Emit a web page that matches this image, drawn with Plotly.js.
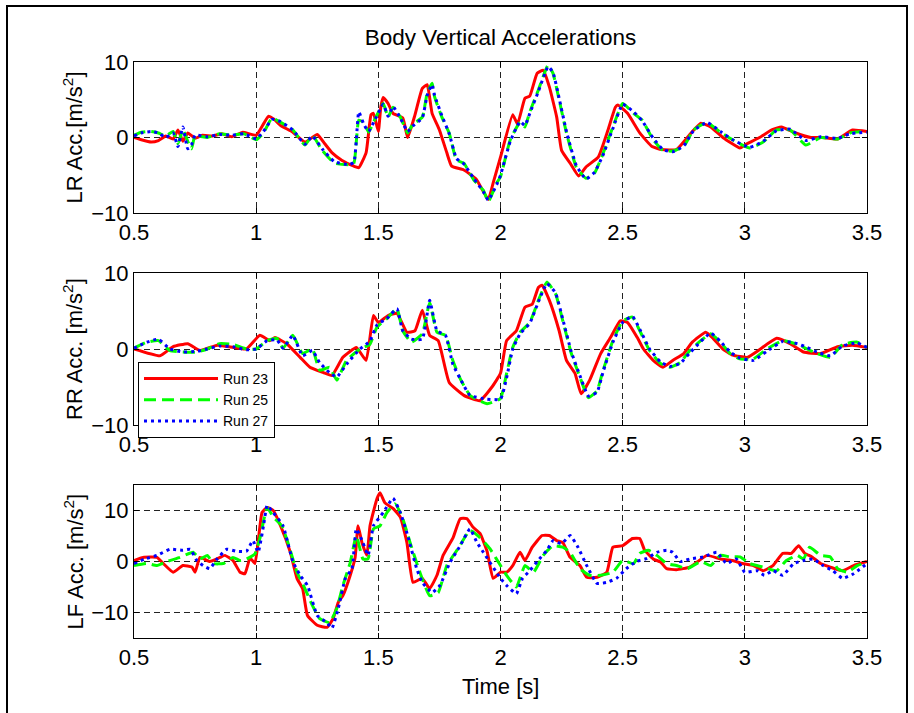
<!DOCTYPE html>
<html>
<head>
<meta charset="utf-8">
<script src="https://cdn.plot.ly/plotly-3.0.1.min.js"></script>
<style>html,body{margin:0;padding:0;background:#fff;}#chart{width:914px;height:713px;}</style>
</head>
<body>
<div id="chart"></div>
<script>
// ---- Data ----
const seriesNames = ['Run 23', 'Run 25', 'Run 27'];
const xTicks = [0.5, 1, 1.5, 2, 2.5, 3, 3.5];

// LR Acc. (top)
const lrT23 = [0.5,0.53,0.57,0.6,0.63,0.66,0.68,0.7,0.72,0.75,0.78,0.82,0.86,0.9,0.945,1.0,1.03,1.05,1.07,1.1,1.15,1.2,1.25,1.28,1.31,1.35,1.4,1.42,1.45,1.47,1.48,1.5,1.51,1.52,1.54,1.56,1.6,1.62,1.65,1.68,1.7,1.72,1.75,1.78,1.8,1.85,1.9,1.95,1.97,2.0,2.05,2.07,2.1,2.12,2.15,2.175,2.2,2.23,2.25,2.285,2.32,2.35,2.4,2.44,2.47,2.48,2.52,2.57,2.62,2.66,2.72,2.78,2.82,2.86,2.91,2.98,3.0,3.06,3.11,3.15,3.2,3.27,3.32,3.38,3.44,3.5];
const lrV23 = [0,-0.3,-0.6,-0.4,0.2,-0.2,1.0,-0.5,0.6,-0.1,0.3,0.2,0.5,0.1,0.7,0.3,1.8,2.8,2.5,1.6,0.7,-0.6,0.4,-0.8,-2.0,-3.0,-3.8,-4.0,-2.0,3.0,3.2,0.8,4.0,5.3,4.5,3.2,2.6,0.0,3.0,6.5,7.0,3.2,1.0,-2.0,-3.8,-4.3,-5.5,-8.2,-6.0,-2.6,3.0,1.8,5.2,5.5,8.5,8.9,6.7,2.7,-1.7,-3.4,-5.1,-3.9,-2.6,1.0,4.0,4.3,3.2,0.6,-1.2,-1.6,-1.6,0.6,1.9,1.4,0,-1.4,-1.0,0,1.0,1.4,0.7,0,0,-0.2,1.0,0.8];
const lrT25 = [0.5,0.53,0.57,0.6,0.63,0.66,0.68,0.7,0.72,0.735,0.75,0.8,0.85,0.9,0.95,1.0,1.03,1.065,1.1,1.15,1.2,1.23,1.27,1.32,1.38,1.4,1.42,1.44,1.46,1.49,1.52,1.54,1.56,1.59,1.62,1.64,1.68,1.70,1.72,1.73,1.76,1.79,1.82,1.85,1.89,1.93,1.95,1.985,2.0,2.04,2.08,2.1,2.12,2.155,2.195,2.215,2.24,2.27,2.31,2.35,2.385,2.42,2.46,2.5,2.545,2.58,2.625,2.665,2.705,2.75,2.79,2.845,2.9,2.95,3.02,3.075,3.13,3.185,3.25,3.31,3.38,3.43,3.5];
const lrV25 = [0.3,0.7,0.8,0.6,0.2,0.8,-0.8,1.0,-0.5,-1.5,0.2,0.0,0.5,0.3,0.5,-0.3,0.6,2.6,2.0,1.0,-1.0,0.3,-1.7,-3.4,-3.6,-3.4,2.3,2.0,0.7,2.7,4.5,2.7,4.0,2.7,0.6,1.7,2.7,5.9,7.2,5.4,2.7,0.6,-3.0,-3.4,-5.6,-7.0,-8.5,-6.0,-5.2,-0.3,2.0,1.4,3.4,6.3,9.6,8.5,5.0,0.6,-3.9,-5.4,-4.7,-2.1,1.4,4.5,3.2,2.3,-0.3,-1.7,-1.8,-1.2,1.0,2.0,0.7,-0.3,-1.4,-0.6,1.0,1.0,-1.0,0,-0.2,0.6,0.8];
const lrT27 = lrT25;
const lrV27 = [0.2,0.6,0.8,0.6,0.0,0.6,-1.2,1.4,-1.5,-1.0,0.3,0.1,0.4,0.3,0.5,-0.2,0.8,2.4,2.1,1.0,-0.9,0.2,-1.5,-3.2,-3.6,-3.3,3.4,1.8,0.8,2.6,4.4,2.8,4.1,2.6,0.8,1.5,2.6,5.6,7.0,5.6,2.9,0.5,-2.8,-3.5,-5.4,-7.2,-8.3,-6.2,-5.0,-0.5,2.1,1.6,3.2,6.1,9.4,8.6,5.2,0.8,-3.7,-5.5,-4.6,-2.3,1.2,4.4,3.4,2.2,-0.1,-1.6,-1.9,-1.1,0.9,2.0,0.8,-0.3,-1.3,-0.5,0.9,1.1,-0.4,0.1,-0.1,0.5,0.7];

// RR Acc. (middle)
const rrT23 = [0.5,0.606,0.66,0.72,0.77,0.84,0.89,0.96,1.015,1.056,1.077,1.125,1.18,1.22,1.275,1.31,1.355,1.41,1.45,1.48,1.5,1.54,1.576,1.617,1.65,1.68,1.71,1.745,1.79,1.85,1.915,1.965,2.0,2.025,2.065,2.1,2.13,2.155,2.17,2.2,2.24,2.27,2.305,2.33,2.365,2.41,2.45,2.49,2.52,2.56,2.585,2.625,2.665,2.705,2.75,2.785,2.84,2.87,2.91,2.95,3.01,3.055,3.13,3.185,3.24,3.31,3.38,3.44,3.5];
const rrV23 = [0,-0.9,0.3,0.7,-0.2,0.5,0.3,0,1.8,1.1,1.5,0.7,-1.1,-2.4,-3.1,-3.5,-1.1,0.2,-1.5,4.4,3.5,4.4,4.7,2.2,2.4,5.1,1.8,1.1,-4.4,-6.1,-6.8,-5.0,-3.2,1.1,2.4,5.5,5.9,8.1,8.4,6.4,2.4,-1.5,-3.2,-5.9,-4.1,-0.6,1.5,3.7,3.5,1.5,0,-1.5,-2.4,-1.5,-0.6,0.9,2.2,1.4,0,-0.8,-1.1,-0.2,1.4,0.7,-0.4,-0.6,0.3,0.5,0.2];
const rrT25 = [0.5,0.553,0.6,0.647,0.7,0.757,0.8,0.85,0.905,0.96,1.0,1.045,1.085,1.11,1.15,1.19,1.23,1.26,1.3,1.33,1.37,1.425,1.465,1.495,1.535,1.576,1.6,1.635,1.68,1.71,1.74,1.775,1.805,1.835,1.875,1.945,2.0,2.025,2.05,2.08,2.12,2.16,2.19,2.225,2.255,2.29,2.325,2.36,2.395,2.42,2.46,2.5,2.54,2.57,2.61,2.655,2.695,2.735,2.775,2.82,2.86,2.9,2.94,2.98,3.035,3.09,3.155,3.215,3.255,3.295,3.35,3.4,3.46,3.5];
const rrV25 = [0.1,0.9,1.1,-0.2,-0.4,-0.4,0,0.7,0.6,0,0,1.1,1.4,0.1,1.8,-0.6,0,-2.8,-2.4,-4.1,-1.5,0,0.6,2.9,4.0,5.3,2.4,0.9,2.0,6.1,2.2,1.8,-1.5,-3.9,-6.1,-7.2,-6.5,-3.2,0.2,2.2,3.5,6.8,8.8,7.3,3.7,-0.6,-3.7,-6.4,-5.5,-2.8,1.1,3.7,4.2,2.4,-0.2,-1.9,-2.4,-1.8,-0.2,1.1,2.0,0.9,-0.6,-1.3,-1.3,0,1.1,0.6,0,-0.6,-1.1,0.6,0.9,0.2];
const rrT27 = rrT25;
const rrV27 = [0.1,0.9,1.3,0,-0.4,-0.3,0,0.4,0.3,-0.1,0,1.1,1.2,0.1,1.8,-0.9,-0.2,-1.8,-3.1,-3.7,-2.0,0,1.0,3.2,4.0,5.3,2.4,1.3,1.3,6.4,2.4,1.8,-2.0,-3.9,-6.1,-6.6,-6.6,-3.8,0,2.0,3.4,6.6,8.6,7.4,3.9,-0.4,-3.5,-6.2,-5.7,-3.0,0.9,3.5,4.3,2.6,0,-1.7,-2.3,-1.9,-0.5,1.0,2.1,1.0,-0.4,-1.2,-1.5,-0.3,1.0,0.7,0.2,-0.4,-0.9,0.4,0.8,0.2];

// LF Acc. (bottom)
const lfT23 = [0.5,0.537,0.594,0.62,0.66,0.7,0.737,0.75,0.77,0.81,0.852,0.872,0.905,0.934,0.954,0.975,0.995,1.024,1.045,1.07,1.1,1.14,1.167,1.19,1.21,1.25,1.29,1.315,1.336,1.355,1.385,1.405,1.417,1.433,1.453,1.466,1.495,1.507,1.527,1.56,1.59,1.617,1.642,1.68,1.71,1.74,1.765,1.806,1.835,1.862,1.888,1.916,1.945,1.97,2.0,2.025,2.05,2.08,2.1,2.13,2.17,2.2,2.23,2.255,2.285,2.325,2.353,2.395,2.435,2.46,2.5,2.54,2.57,2.59,2.625,2.655,2.68,2.72,2.775,2.845,2.9,2.95,2.99,3.035,3.075,3.115,3.155,3.19,3.22,3.245,3.275,3.31,3.35,3.4,3.445,3.5];
const lfV23 = [0.2,0.8,0.8,-0.4,-2.1,-0.8,-1.1,-2.1,0.8,0,0.8,1.2,0.2,-2.1,-2.4,0.7,-0.4,9.6,10.6,10,7,1.8,-3.3,-5.3,-10.6,-12.5,-12.9,-11.2,-8,-6.7,-2.7,0.8,7,3.7,1.2,7,12.4,13.5,11.5,10.4,8.7,3.7,-4.1,-3.3,-5.3,-2.7,1.2,4.7,8.4,8.4,6.7,5.5,2.0,-3.3,-2.1,-2.1,-0.8,1.8,0.2,2.8,5.1,5.1,4.1,3.7,0.8,-0.8,-3.1,-3.1,-2.1,2.8,3.1,4.5,4.5,2.2,0.5,-0.1,-1.4,-1.6,-1.1,1.2,0.5,0.2,-0.4,-0.8,-1.8,-0.8,1.6,1.6,3.1,1.6,0.9,-0.4,-1.1,-1.8,-0.8,0];
const lfT25 = [0.5,0.553,0.594,0.635,0.688,0.742,0.77,0.8,0.825,0.865,0.905,0.934,0.96,0.995,1.015,1.045,1.07,1.105,1.13,1.167,1.19,1.23,1.26,1.3,1.33,1.355,1.385,1.41,1.437,1.458,1.48,1.507,1.535,1.568,1.596,1.63,1.67,1.71,1.745,1.78,1.826,1.875,1.916,1.957,2.0,2.025,2.065,2.1,2.135,2.175,2.215,2.255,2.285,2.325,2.365,2.41,2.46,2.5,2.545,2.57,2.605,2.64,2.68,2.72,2.765,2.82,2.86,2.9,2.94,2.98,3.02,3.075,3.13,3.17,3.215,3.24,3.265,3.31,3.35,3.38,3.42,3.46,3.5];
const lfV25 = [-0.8,-0.4,-0.8,0,0.8,1.8,0.5,1.2,-0.4,-0.4,0.8,0.2,0.5,1.5,4.5,10.6,8.7,7,3.7,-2.1,-4.3,-8.6,-11.2,-12,-9.2,-4.7,-0.2,5.1,0.5,0.5,6.4,7,9.6,11.3,9,3.7,-2.1,-6.7,-6.1,-0.8,2.5,6.1,4.7,2.5,-0.8,-2.7,-5,-0.8,-2.1,1.2,3.1,2.8,1.8,-1.4,-2.7,-2.7,-2.1,0.2,-0.4,1.6,2.2,1.2,-0.4,-0.8,-1.4,0,-0.8,1.2,0.9,0.9,-0.4,-1.1,-1.8,0.2,1.2,0.5,2.8,1.2,0.9,-1.4,-2.1,-0.8,-0.2];
const lfT27 = [0.5,0.545,0.594,0.647,0.7,0.73,0.757,0.783,0.81,0.84,0.88,0.92,0.96,0.987,1.008,1.03,1.045,1.07,1.11,1.15,1.18,1.21,1.25,1.29,1.31,1.336,1.365,1.392,1.41,1.437,1.458,1.48,1.52,1.56,1.59,1.62,1.657,1.68,1.72,1.752,1.793,1.835,1.875,1.904,1.93,2.0,2.025,2.065,2.09,2.12,2.15,2.19,2.215,2.25,2.285,2.317,2.353,2.395,2.435,2.475,2.515,2.556,2.6,2.64,2.68,2.705,2.735,2.775,2.83,2.885,2.925,2.965,3.0,3.05,3.08,3.115,3.155,3.2,3.24,3.28,3.32,3.36,3.4,3.445,3.5];
const lfV27 = [-0.4,0.5,1.2,2.4,2.2,2.4,0.2,-0.8,-1.4,0.5,2.4,2.0,2.0,4.1,1.8,7,11,9.6,7,0,-2.7,-4.7,-10.6,-12,-13.1,-9.2,-3.3,-1.4,6.4,3.7,1.2,7,9.6,12.4,9.6,5.1,-1.4,-4.1,-6.1,-4.7,-0.2,3.1,6.4,3.7,1.8,-3.3,-4.7,-6.3,-3.3,-1.8,0,2.2,4.1,3.5,5.1,2.8,-0.8,-4.3,-4.1,-3.3,-1.4,0,0.6,1.8,2.2,1.8,0,0.5,0.9,1.8,-0.4,0.5,-2.1,-1.8,-2.7,-1.8,-2.7,-0.4,0.2,0.5,-0.8,-1.8,-3.3,-2.4,-0.4];

const yLabels = ['LR Acc.[m/s<sup>2</sup>]', 'RR Acc. [m/s<sup>2</sup>]', 'LF Acc. [m/s<sup>2</sup>]'];
const yTickVals = [-10, 0, 10];

// ---- Styles ----
const FONT = 'Liberation Sans, Arial, Helvetica, sans-serif';
const styles = [
  {color: '#ff0000', width: 3, dash: 'solid'},
  {color: '#00ff00', width: 3, dash: '12px,6px'},
  {color: '#0000ff', width: 3, dash: '3px,4px'}
];

const panels = [
  {T: [lrT23, lrT25, lrT27], V: [lrV23, lrV25, lrV27], xa: 'x', ya: 'y'},
  {T: [rrT23, rrT25, rrT27], V: [rrV23, rrV25, rrV27], xa: 'x2', ya: 'y2'},
  {T: [lfT23, lfT25, lfT27], V: [lfV23, lfV25, lfV27], xa: 'x3', ya: 'y3'}
];

const traces = [];
panels.forEach((p, pi) => {
  for (let s = 0; s < 3; s++) {
    traces.push({
      type: 'scatter', mode: 'lines',
      x: p.T[s], y: p.V[s],
      xaxis: p.xa, yaxis: p.ya,
      name: seriesNames[s],
      showlegend: pi === 1,
      line: {color: styles[s].color, width: styles[s].width, dash: styles[s].dash, shape: 'spline', smoothing: 0.4},
      hoverinfo: 'skip'
    });
  }
});

const W = 914, H = 713;
const TICK_SIZE = 22;
const xDom = [134 / W, 867 / W];
const yDoms = [[1 - 213 / H, 1 - 62 / H], [1 - 425 / H, 1 - 273 / H], [1 - 638 / H, 1 - 485 / H]];
const yRanges = [[-10, 10], [-10, 10], [-15, 15]];

function xAxis(anchor) {
  return {
    domain: xDom, anchor: anchor, range: [0.5, 3.5], tickvals: xTicks,
    showline: true, linecolor: '#000', linewidth: 1, mirror: 'ticks',
    ticks: 'inside', ticklen: 5, tickcolor: '#000', tickwidth: 1,
    showgrid: true, gridcolor: '#222', gridwidth: 1, griddash: '6px,4px',
    zeroline: false, tickfont: {family: FONT, size: TICK_SIZE, color: '#000'},
    fixedrange: true
  };
}
function yAxis(anchor, i) {
  return {
    domain: yDoms[i], anchor: anchor, range: yRanges[i], tickvals: yTickVals,
    showline: true, linecolor: '#000', linewidth: 1, mirror: 'ticks',
    ticks: 'inside', ticklen: 5, tickcolor: '#000', tickwidth: 1,
    showgrid: true, gridcolor: '#222', gridwidth: 1, griddash: '6px,4px',
    zeroline: false, tickfont: {family: FONT, size: TICK_SIZE, color: '#000'},
    fixedrange: true
  };
}

const annotations = yLabels.map((txt, i) => ({
  text: txt, textangle: -90, showarrow: false,
  xref: 'paper', yref: 'paper', x: 73 / W, xanchor: 'center',
  y: (yDoms[i][0] + yDoms[i][1]) / 2, yanchor: 'middle',
  font: {family: FONT, size: 22, color: '#000'}
}));
annotations.push({
  text: 'Time [s]', showarrow: false, xref: 'paper', yref: 'paper',
  x: (xDom[0] + xDom[1]) / 2, xanchor: 'center', y: 1 - 686 / H, yanchor: 'middle',
  font: {family: FONT, size: 22, color: '#000'}
});

const layout = {
  width: W, height: H,
  margin: {l: 0, r: 0, t: 0, b: 0},
  paper_bgcolor: '#fff', plot_bgcolor: '#fff',
  font: {family: FONT, color: '#000'},
  title: {text: 'Body Vertical Accelerations', font: {family: FONT, size: 22.5, color: '#000'},
          xref: 'paper', x: (xDom[0] + xDom[1]) / 2, xanchor: 'center', yref: 'paper', y: 1 - 37 / H, yanchor: 'middle'},
  xaxis: xAxis('y'), yaxis: yAxis('x', 0),
  xaxis2: xAxis('y2'), yaxis2: yAxis('x2', 1),
  xaxis3: xAxis('y3'), yaxis3: yAxis('x3', 2),
  showlegend: true,
  legend: {
    x: 138 / W, y: 1 - 362 / H, xanchor: 'left', yanchor: 'top',
    bgcolor: '#fff', bordercolor: '#000', borderwidth: 1,
    font: {family: FONT, size: 14, color: '#000'},
    tracegroupgap: 0, itemwidth: 74
  },
  annotations: annotations,
  shapes: [{
    type: 'rect', xref: 'paper', yref: 'paper', layer: 'below',
    x0: 7 / W, x1: 907 / W, y0: -0.05, y1: 1 - 6 / H,
    line: {color: '#000', width: 2}, fillcolor: 'rgba(0,0,0,0)'
  }]
};

Plotly.newPlot('chart', traces, layout, {displayModeBar: false, staticPlot: true});
</script>
</body>
</html>
